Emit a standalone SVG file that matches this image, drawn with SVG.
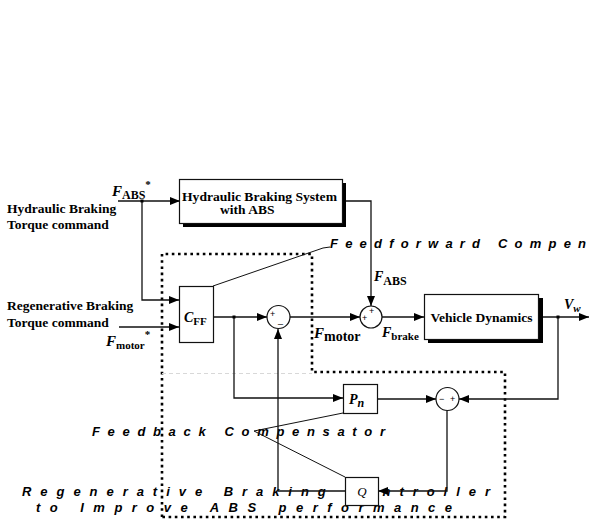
<svg xmlns="http://www.w3.org/2000/svg" width="589" height="521" viewBox="0 0 589 521">
<style>
.ln{fill:none;stroke:#111;stroke-width:1.3}
.thin{fill:none;stroke:#111;stroke-width:1}
.box{fill:#fff;stroke:#111;stroke-width:1.2}
.sh{fill:#000}
.dot{fill:none;stroke:#000;stroke-width:2.6;stroke-dasharray:2.6,3.6}
.lbl{font-family:"Liberation Serif","Times New Roman",serif;font-weight:bold;font-size:13.5px;fill:#000}
.it{font-family:"Liberation Serif","Times New Roman",serif;font-weight:bold;font-style:italic;fill:#000}
.sub{font-family:"Liberation Serif","Times New Roman",serif;font-weight:bold;fill:#000}
.cap{font-family:"Liberation Sans",Arial,sans-serif;font-weight:bold;font-style:italic;font-size:13px;fill:#000}
.sg{font-family:"Liberation Sans",Arial,sans-serif;font-size:9px;fill:#000}
</style>
<defs>
<marker id="ar" markerUnits="userSpaceOnUse" markerWidth="10" markerHeight="8" refX="10" refY="4" orient="auto">
<path d="M0,0 L10,4 L0,8 z" fill="#000"/>
</marker>
</defs>
<rect width="589" height="521" fill="#fff"/>

<!-- dotted controller outline -->
<g id="outline">
<path class="dot" d="M162,517 V254 H312 V372 H505 V517 H162"/>
<line x1="162" y1="373.5" x2="312" y2="373.5" stroke="#d8d8d8" stroke-width="1" stroke-dasharray="4,3"/>
</g>

<!-- captions -->
<g id="captions">
<text class="cap" x="22" y="495.5" textLength="468" lengthAdjust="spacing" font-size="13.5">Regenerative Braking Controller</text>
<text class="cap" x="36" y="512" textLength="416" lengthAdjust="spacing" font-size="13.5">to Improve ABS performance</text>
<text class="cap" x="92" y="436" textLength="293" lengthAdjust="spacing">Feedback Compensator</text>
<text class="cap" x="330" y="248" letter-spacing="7.2" font-size="12.5">Feedforward Compensator</text>
<polyline class="thin" points="213,286 323,248 330,247"/>
<polyline class="thin" points="343,413 254,431 345,477"/>
</g>

<!-- connectors -->
<g id="connectors">
<line class="ln" x1="118" y1="201" x2="180" y2="201" marker-end="url(#ar)"/>
<polyline class="ln" points="142,201 142,300 179,300" marker-end="url(#ar)"/>
<line class="ln" x1="119" y1="327" x2="179" y2="327" marker-end="url(#ar)"/>
<line class="ln" x1="213" y1="317" x2="267" y2="317" marker-end="url(#ar)"/>
<polyline class="ln" points="234,317 234,398 343,398" marker-end="url(#ar)"/>
<line class="ln" x1="290" y1="317" x2="360" y2="317" marker-end="url(#ar)"/>
<polyline class="ln" points="342,201 371,201 371,306" marker-end="url(#ar)"/>
<line class="ln" x1="382" y1="317" x2="424" y2="317" marker-end="url(#ar)"/>
<line class="ln" x1="538" y1="317" x2="589" y2="317" marker-end="url(#ar)"/>
<polyline class="ln" points="558,317 558,399 459,399" marker-end="url(#ar)"/>
<line class="ln" x1="377" y1="399" x2="436" y2="399" marker-end="url(#ar)"/>
<polyline class="ln" points="447,410.5 447,491 378,491" marker-end="url(#ar)"/>
<polyline class="ln" points="345,491 278,491 278,329" marker-end="url(#ar)"/>
<rect x="140.5" y="199.5" width="3" height="3" fill="#000"/>
<rect x="232.5" y="315.5" width="3" height="3" fill="#000"/>
<rect x="556.5" y="315.5" width="3" height="3" fill="#000"/>
</g>

<!-- input labels -->
<g id="inputs">
<text class="lbl" x="7" y="213">Hydraulic Braking</text>
<text class="lbl" x="7" y="229">Torque command</text>
<text class="lbl" x="7" y="310">Regenerative Braking</text>
<text class="lbl" x="7" y="327">Torque command</text>
<text x="112" y="196"><tspan class="it" font-size="15">F</tspan><tspan class="sub" font-size="12" dy="3">ABS</tspan><tspan class="sub" font-size="11" dy="-11">*</tspan></text>
<text x="106" y="346"><tspan class="it" font-size="15">F</tspan><tspan class="sub" font-size="11" dy="3">motor</tspan><tspan class="sub" font-size="11" dy="-11">*</tspan></text>
</g>

<g id="hydraulic">
<rect class="sh" x="183" y="183" width="163" height="44"/>
<rect class="box" x="179.5" y="179.5" width="163" height="44"/>
<text class="lbl" x="182" y="200.5" textLength="155" lengthAdjust="spacingAndGlyphs" font-size="13">Hydraulic Braking System</text>
<text class="lbl" x="220" y="214" font-size="13">with ABS</text>
</g>

<g id="cff">
<rect class="box" x="179.5" y="286.5" width="34" height="56"/>
<text x="184" y="322"><tspan class="it" font-size="14">C</tspan><tspan class="sub" font-size="11" dy="3">FF</tspan></text>
</g>

<g id="sum1">
<circle cx="278.5" cy="317" r="11.5" fill="#fff" stroke="#111" stroke-width="1.2"/>
<text class="sg" x="270" y="317">+</text>
<text class="sg" x="278" y="323">_</text>
</g>

<g id="sum3">
<circle cx="371" cy="317" r="11" fill="#fff" stroke="#111" stroke-width="1.2"/>
<text class="sg" x="369" y="314">+</text>
<text class="sg" x="362" y="321">+</text>
</g>

<g id="vehicle">
<rect class="sh" x="428" y="298" width="115" height="45"/>
<rect class="box" x="424.5" y="294.5" width="114" height="45"/>
<text class="lbl" x="481.5" y="322" text-anchor="middle">Vehicle Dynamics</text>
</g>

<g id="signals">
<text x="374" y="281"><tspan class="it" font-size="14">F</tspan><tspan class="sub" font-size="12" dy="4">ABS</tspan></text>
<text x="314" y="338"><tspan class="it" font-size="15">F</tspan><tspan class="sub" font-size="14" dy="3">motor</tspan></text>
<text x="382" y="337"><tspan class="it" font-size="14">F</tspan><tspan class="sub" font-size="11" dy="3">brake</tspan></text>
<text x="564" y="309"><tspan class="it" font-size="14">V</tspan><tspan class="it" font-size="11" dy="3">w</tspan></text>
</g>

<g id="pn">
<rect class="box" x="343.5" y="384.5" width="34" height="29"/>
<text x="349" y="404"><tspan class="it" font-size="14">P</tspan><tspan class="it" font-size="12" dy="3">n</tspan></text>
</g>

<g id="sum2">
<circle cx="447.5" cy="399" r="11.5" fill="#fff" stroke="#111" stroke-width="1.2"/>
<text class="sg" x="439" y="402">−</text>
<text class="sg" x="450" y="402">+</text>
</g>

<g id="q">
<rect class="box" x="345.5" y="477.5" width="33" height="28"/>
<text x="362" y="496" text-anchor="middle" font-family="'Liberation Serif','Times New Roman',serif" font-style="italic" font-size="13">Q</text>
</g>
</svg>
